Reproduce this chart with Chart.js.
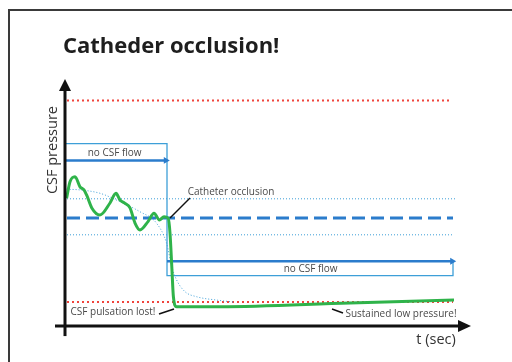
<!DOCTYPE html>
<html>
<head>
<meta charset="utf-8">
<script src="https://cdn.jsdelivr.net/npm/chart.js@4"></script>
<style>
  html, body { margin: 0; padding: 0; background: #fff; }
  #wrap { position: relative; width: 512px; height: 362px; overflow: hidden; }
  #frame { position: absolute; left: 8px; top: 9px; right: -10px; bottom: -10px;
           border-top: 2px solid #3a3a3a; border-left: 2px solid #3a3a3a; }
  canvas { position: absolute; left: 0; top: 0; }
</style>
</head>
<body>
<div id="wrap"><div id="frame"></div><canvas id="c" width="512" height="362"></canvas></div>
<script>
/* time runs 0..100, pressure 0..100 (arbitrary units) */

// measured CSF pressure (green)
const greenT = [0.4, 1.25, 2.5, 3.75, 4.75, 5.4, 6.7, 8.75, 11.25, 12.75, 13.75, 15, 16.25, 17.5, 18.75,
                20.75, 22.25, 23.6, 24.75, 25.8, 26.25, 26.7, 27.1, 27.9, 38.75, 71.25, 97.25];
const greenP = [53.2, 60.1, 62.2, 58, 56.7, 54.6, 49.2, 46.25, 51.25, 55.3, 52.5, 51.1, 49.2, 42.9, 40,
                43.5, 47, 44.2, 45.5, 44.9, 38.75, 24.7, 12.2, 8, 8, 9.6, 10.8];

// mean trend (thin dotted)
const trendT = [0.4, 3.75, 8.75, 13.75, 18.75, 22.9, 25.4, 26.7, 27.9, 30, 32.9, 37.9, 42];
const trendP = [57, 56.7, 55.3, 51.8, 47.6, 42.8, 34.5, 24.7, 19.2, 14.3, 12.2, 10.8, 10];

// reference levels
const limitHigh = 94, limitLow = 10;
const bandHigh = 53, bandMean = 45, bandLow = 38;

// "no CSF flow" boxes and arrows
const boxT = [0, 25.5, 25.5, 97, 97];
const boxP = [76, 76, 21, 21, 27];
const flow1T = [0, 25.2], flow1P = 69;
const flow2T = [25.5, 96.8], flow2P = 27;

// leader lines for the notes
const occlT = [31.25, 26.25], occlP = [53.3, 45];
const lostT = [23.5, 27.25], lostP = [5, 7.1];
const lowT = [66.75, 69.5], lowP = [7.1, 5.4];

const notes = [
  { text: 'no CSF flow', t: 12.4, p: 72.1 },
  { text: 'no CSF flow', t: 61.4, p: 23.75 },
  { text: 'Catheter occlusion', t: 41.5, p: 55.8 },
  { text: 'CSF pulsation lost!', t: 12, p: 5.8 },
  { text: 'Sustained low pressure!', t: 84, p: 5 }
];

/* ── helpers ─────────────────────────────── */
const pts = (xs, ys) => xs.map((x, i) => ({ x, y: Array.isArray(ys) ? ys[i] : ys }));
const RED = '#f0443c', LBLUE = '#3d9fd8', DBLUE = '#2b7ccc', GREEN = '#2fb34a';

function line(data, color, width, dash, extra) {
  return Object.assign({
    data, showLine: true, borderColor: color, backgroundColor: color,
    borderWidth: width, borderDash: dash || [], pointRadius: 0, tension: 0
  }, extra || {});
}
const arrowEnd = { pointRadius: [0, 4], pointStyle: 'triangle', rotation: 90, pointBorderWidth: 0 };

/* ── axes, arrows and notes ─────────────── */
const overlay = {
  id: 'overlay',
  afterDatasetsDraw(chart) {
    const { ctx, scales: { x, y } } = chart;
    const ax = x.getPixelForValue(0), ay = y.getPixelForValue(0);
    ctx.save();
    ctx.strokeStyle = ctx.fillStyle = '#111';
    ctx.lineWidth = 3;
    // y axis
    const yTop = y.getPixelForValue(102.9);
    ctx.beginPath(); ctx.moveTo(ax, y.getPixelForValue(-4.2)); ctx.lineTo(ax, yTop + 10); ctx.stroke();
    ctx.beginPath(); ctx.moveTo(ax, yTop); ctx.lineTo(ax - 6, yTop + 12); ctx.lineTo(ax + 6, yTop + 12); ctx.fill();
    // x axis
    const xEnd = x.getPixelForValue(101.5);
    ctx.beginPath(); ctx.moveTo(x.getPixelForValue(-2.5), ay); ctx.lineTo(xEnd - 10, ay); ctx.stroke();
    ctx.beginPath(); ctx.moveTo(xEnd, ay); ctx.lineTo(xEnd - 13, ay - 6); ctx.lineTo(xEnd - 13, ay + 6); ctx.fill();

    ctx.textAlign = 'center'; ctx.textBaseline = 'middle';
    ctx.fillStyle = '#4a4a4a';
    ctx.font = '10px "Open Sans"';
    notes.forEach(n => ctx.fillText(n.text, x.getPixelForValue(n.t), y.getPixelForValue(n.p)));

    ctx.fillStyle = '#333';
    ctx.font = '14.5px "Open Sans"';
    ctx.fillText('t (sec)', x.getPixelForValue(92.75), y.getPixelForValue(-5.8));
    ctx.translate(x.getPixelForValue(-3), y.getPixelForValue(73.3));
    ctx.rotate(-Math.PI / 2);
    ctx.fillText('CSF pressure', 0, 0);
    ctx.restore();
  }
};

new Chart(document.getElementById('c'), {
  type: 'scatter',
  data: {
    datasets: [
      line(pts(greenT, greenP), GREEN, 3, null, { cubicInterpolationMode: 'monotone' }),
      line(pts(occlT, occlP), '#111', 1.5),
      line(pts(lostT, lostP), '#111', 1.5),
      line(pts(lowT, lowP), '#111', 1.5),
      line(pts(trendT, trendP), LBLUE, 1, [1, 2], { cubicInterpolationMode: 'monotone' }),
      line(pts(flow1T, flow1P), DBLUE, 2.5, null, arrowEnd),
      line(pts(flow2T, flow2P), DBLUE, 2.5, null, arrowEnd),
      line(pts(boxT, boxP), LBLUE, 1.3),
      line(pts([0.5, 97], bandMean), DBLUE, 3, [13, 6]),
      line(pts([0.5, 97.5], bandHigh), LBLUE, 1, [1, 2]),
      line(pts([0.5, 97], bandLow), LBLUE, 1, [1, 2]),
      line(pts([0.5, 96.25], limitHigh), RED, 2, [2, 3]),
      line(pts([0.5, 97], limitLow), RED, 2, [2, 3])
    ]
  },
  options: {
    responsive: false,
    animation: false,
    events: [],
    layout: { padding: { left: 63, right: 47, top: 0, bottom: 36 } },
    plugins: {
      legend: { display: false },
      tooltip: { enabled: false },
      title: {
        display: true, text: 'Catheder occlusion!', align: 'start', color: '#1e1e1e',
        font: { family: 'Open Sans', size: 22, weight: 'bold' },
        padding: { top: 34, bottom: 25.6 }
      }
    },
    scales: {
      x: { type: 'linear', min: -0.5, max: 100, display: false },
      y: { type: 'linear', min: 0, max: 100, display: false }
    }
  },
  plugins: [overlay]
});
</script>
</body>
</html>
